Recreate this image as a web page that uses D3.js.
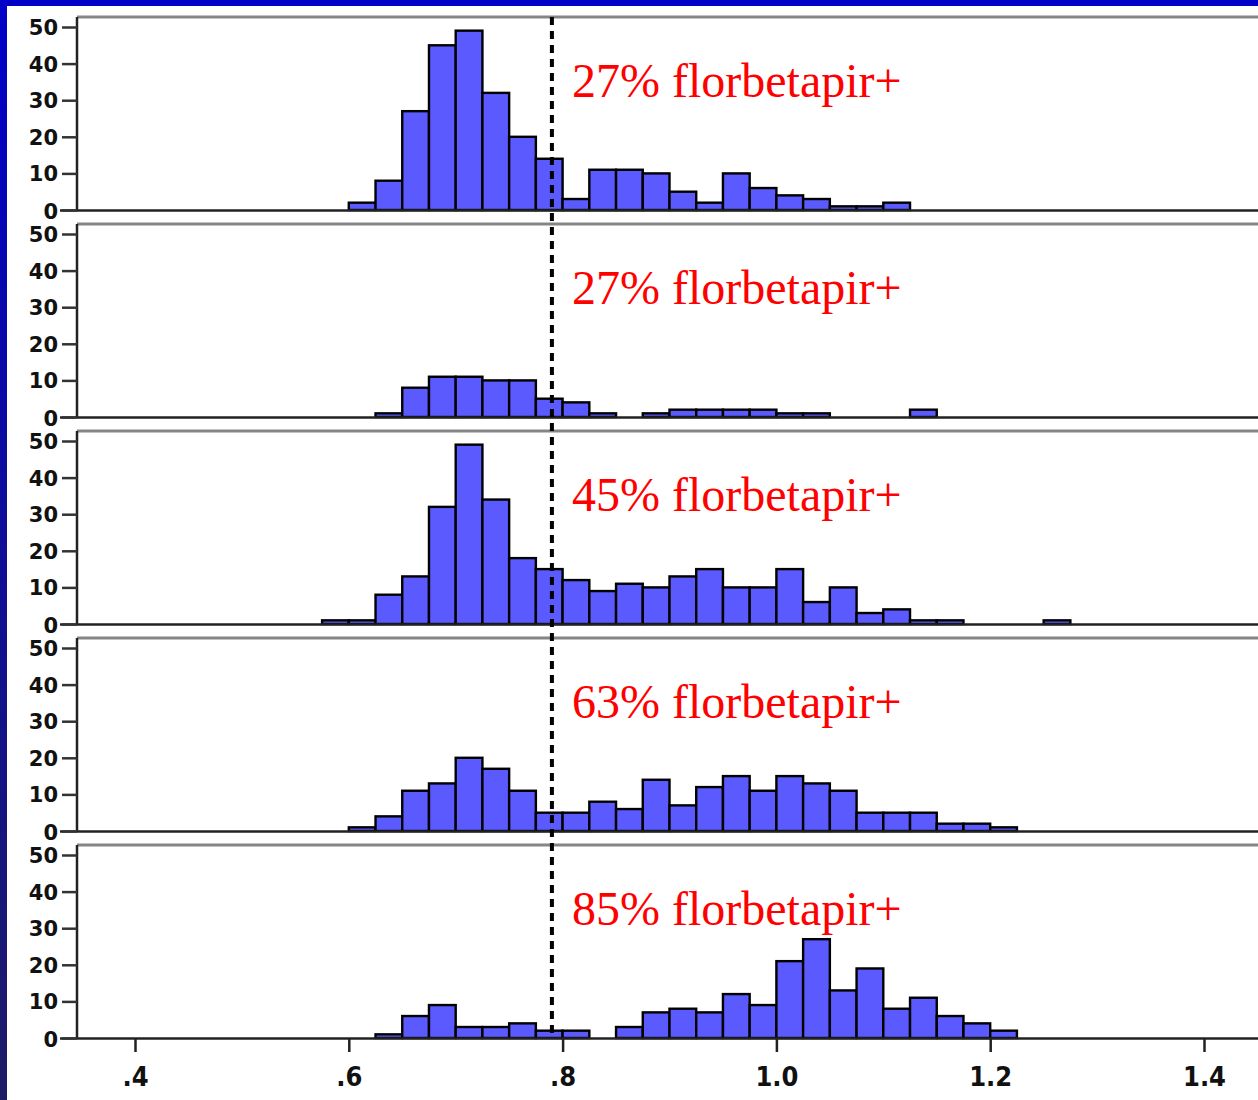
<!DOCTYPE html>
<html>
<head>
<meta charset="utf-8">
<script src="https://cdn.jsdelivr.net/npm/d3@7"></script>
<style>
  html, body { margin: 0; padding: 0; background: #ffffff; }
  svg { display: block; }
</style>
</head>
<body>
<svg id="chart" width="1258" height="1100"></svg>
<script>
// ---- data ----
const binStarts = [0.575, 0.600, 0.625, 0.650, 0.675, 0.700, 0.725, 0.750, 0.775, 0.800,
                   0.825, 0.850, 0.875, 0.900, 0.925, 0.950, 0.975, 1.000, 1.025, 1.050,
                   1.075, 1.100, 1.125, 1.150, 1.175, 1.200, 1.225, 1.250];
const binWidth = 0.025;
const panel1 = [0,2,8,27,45,49,32,20,14,3,11,11,10,5,2,10,6,4,3,1,1,2,0,0,0,0,0,0];
const panel2 = [0,0,1,8,11,11,10,10,5,4,1,0,1,2,2,2,2,1,1,0,0,0,2,0,0,0,0,0];
const panel3 = [1,1,8,13,32,49,34,18,15,12,9,11,10,13,15,10,10,15,6,10,3,4,1,1,0,0,0,1];
const panel4 = [0,1,4,11,13,20,17,11,5,5,8,6,14,7,12,15,11,15,13,11,5,5,5,2,2,1,0,0];
const panel5 = [0,0,1,6,9,3,3,4,2,2,0,3,7,8,7,12,9,21,27,13,19,8,11,6,4,2,0,0];
const panelLabels = ["27% florbetapir+", "27% florbetapir+", "45% florbetapir+", "63% florbetapir+", "85% florbetapir+"];
const yTicks = [0, 10, 20, 30, 40, 50];
const xTicks = [0.4, 0.6, 0.8, 1.0, 1.2, 1.4];
const xTickLabels = [".4", ".6", ".8", "1.0", "1.2", "1.4"];
const cutoff = 0.79;
const panels = [panel1, panel2, panel3, panel4, panel5];

// ---- layout ----
const W = 1258, H = 1100;
const axisX = 77;
const firstBase = 210, panelStep = 207, plotH = 183, topGap = 193;
const svg = d3.select("#chart");

const defs = svg.append("defs");
const grad = defs.append("linearGradient").attr("id", "sideGrad")
  .attr("x1", 0).attr("y1", 0).attr("x2", 0).attr("y2", 1);
grad.append("stop").attr("offset", "0%").attr("stop-color", "#0000c8");
grad.append("stop").attr("offset", "100%").attr("stop-color", "#1c1c66");
const f = defs.append("filter").attr("id", "soft").attr("x", "-5%").attr("y", "-5%").attr("width", "110%").attr("height", "110%");
f.append("feGaussianBlur").attr("stdDeviation", 0.6);

// background frame
svg.append("rect").attr("x", 0).attr("y", 0).attr("width", W).attr("height", H).attr("fill", "#ffffff");
svg.append("rect").attr("x", 0).attr("y", 0).attr("width", W).attr("height", 6).attr("fill", "#0000c8");
svg.append("rect").attr("x", 0).attr("y", 0).attr("width", 7).attr("height", H).attr("fill", "url(#sideGrad)");

const x = d3.scaleLinear().domain([0.4, 1.4]).range([135, 1204]);

panels.forEach((counts, i) => {
  const base = firstBase + i * panelStep;
  const y = d3.scaleLinear().domain([0, 50]).range([base, base - plotH]);
  const g = svg.append("g");

  // top border
  g.append("line").attr("x1", axisX).attr("x2", W).attr("y1", base - topGap).attr("y2", base - topGap)
    .attr("stroke", "#858585").attr("stroke-width", 3);

  // bars
  const data = binStarts.map((b, k) => ({ b, c: counts[k] })).filter(d => d.c > 0);
  g.append("g").attr("filter", "url(#soft)").selectAll("rect").data(data).join("rect")
    .attr("x", d => x(d.b))
    .attr("width", d => x(d.b + binWidth) - x(d.b))
    .attr("y", d => y(d.c))
    .attr("height", d => y(0) - y(d.c))
    .attr("fill", "#5a5aff")
    .attr("stroke", "#000000")
    .attr("stroke-width", 2.4);

  // baseline
  g.append("line").attr("x1", 60).attr("x2", W).attr("y1", base + 0.5).attr("y2", base + 0.5)
    .attr("stroke", "#222").attr("stroke-width", 2.5);

  // y axis
  const ax = d3.axisLeft(y).tickValues(yTicks).tickSize(15).tickPadding(4).tickFormat(d3.format("d"));
  const axg = g.append("g").attr("transform", `translate(${axisX},0)`).call(ax);
  axg.select(".domain").attr("d", `M0,${base - topGap}V${base}`).attr("stroke", "#222").attr("stroke-width", 2.5);
  axg.selectAll(".tick line").attr("stroke", "#333").attr("stroke-width", 2.5);
  axg.selectAll(".tick text")
    .attr("font-family", "'DejaVu Sans', sans-serif").attr("font-weight", "bold")
    .attr("font-size", 21).attr("fill", "#111")
    .attr("dy", d => d === 0 ? "0.42em" : "0.36em");
});

// x axis on last panel
const lastBase = firstBase + 4 * panelStep;
const xAx = d3.axisBottom(x).tickValues(xTicks).tickSize(14).tickPadding(15)
  .tickFormat((d, k) => xTickLabels[k]);
const xg = svg.append("g").attr("transform", `translate(0,${lastBase})`).call(xAx);
xg.select(".domain").remove();
xg.selectAll(".tick line").attr("stroke", "#222").attr("stroke-width", 2.5);
xg.selectAll(".tick text")
  .attr("font-family", "'DejaVu Sans Condensed', 'DejaVu Sans', sans-serif").attr("font-weight", "bold")
  .attr("font-size", 27).attr("fill", "#111");

// dashed cutoff line
svg.append("line")
  .attr("x1", x(cutoff)).attr("x2", x(cutoff))
  .attr("y1", firstBase - topGap).attr("y2", lastBase)
  .attr("stroke", "#000").attr("stroke-width", 4).attr("stroke-dasharray", "8,6");

// labels
panelLabels.forEach((t, i) => {
  const base = firstBase + i * panelStep;
  svg.append("text").attr("x", 572).attr("y", base - 113)
    .attr("font-family", "'Liberation Serif', 'Times New Roman', serif")
    .attr("font-size", 48).attr("fill", "#ff0000").text(t);
});
</script>
</body>
</html>
